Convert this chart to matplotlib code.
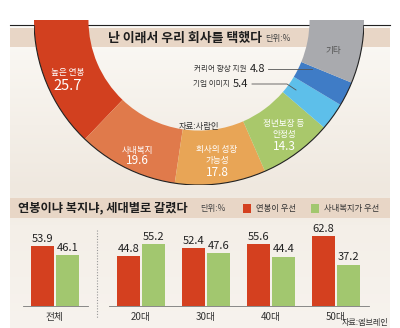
import numpy as np
import matplotlib
matplotlib.use("Agg")
import matplotlib.pyplot as plt
from matplotlib.patches import Rectangle, Arc

plt.rcParams['font.family'] = ['Noto Sans CJK KR', 'DejaVu Sans']

# ---------------- data ----------------
reason_labels = ['높은 연봉', '사내복지', '회사의 성장\n가능성', '정년보장 등\n안정성',
                 '기업 이미지', '커리어 향상 지원', '기타']
reason_values = [25.7, 19.6, 17.8, 14.3, 5.4, 4.8, 12.4]
reason_colors = ['#d2401f', '#e07a4b', '#e8a556', '#a9c86b', '#5dbfea', '#3f7cc6', '#a9aaae']

groups = ['전체', '20대', '30대', '40대', '50대']
salary_first = [53.9, 44.8, 52.4, 55.6, 62.8]
welfare_first = [46.1, 55.2, 47.6, 44.4, 37.2]
series_names = ['연봉이 우선', '사내복지가 우선']
bar_red = '#d4401f'
bar_green = '#a2c76f'

W, H = 400, 328
fig = plt.figure(figsize=(W / 100, H / 100), dpi=100)


def px_axes(x0, y0, x1, y1, **kw):
    return fig.add_axes([x0 / W, 1 - y1 / H, (x1 - x0) / W, (y1 - y0) / H], **kw)


def pixel_layer(z):
    a = fig.add_axes([0, 0, 1, 1], zorder=z)
    a.set_xlim(0, W)
    a.set_ylim(H, 0)
    a.axis('off')
    a.patch.set_alpha(0)
    return a


# background
bg = pixel_layer(0)

ys = np.arange(25, H)
stops_y = [25, 60, 190, 225, 328]
stops_c = np.array([[252, 250, 247], [249, 246, 241], [239, 232, 223], [244, 239, 232], [247, 243, 238]]) / 255
grad = np.stack([np.interp(ys, stops_y, stops_c[:, k]) for k in range(3)], axis=1)
grad = np.repeat(grad[:, None, :], 2, axis=1)
bg.imshow(grad, extent=(10, 390, H, 25), aspect='auto', interpolation='bilinear', zorder=0)

band = '#e8d6c6'
bg.add_patch(Rectangle((10, 28), 380, 19, color=band, zorder=1, lw=0))
bg.add_patch(Rectangle((10, 198), 380, 20, color=band, zorder=1, lw=0))
bg.plot([10, 390], [25, 25], color='#222222', lw=0.8, zorder=2)

# titles
bg.text(108, 38, '난 이래서 우리 회사를 택했다', fontsize=9.3, fontweight='bold',
        color='#1e1e1e', va='center', ha='left', zorder=3)
bg.text(265, 39, '단위:%', fontsize=6, color='#444444', va='center', ha='left', zorder=3)
bg.text(18, 208, '연봉이냐 복지냐, 세대별로 갈렸다', fontsize=8.8, fontweight='bold',
        color='#1e1e1e', va='center', ha='left', zorder=3)
bg.text(200, 209, '단위:%', fontsize=6, color='#444444', va='center', ha='left', zorder=3)

# legend squares
bg.add_patch(Rectangle((243, 204), 8, 9, color=bar_red, zorder=3, lw=0))
bg.text(256, 209, series_names[0], fontsize=6, color='#333333', va='center', ha='left', zorder=3)
bg.add_patch(Rectangle((311, 204), 8, 9, color=bar_green, zorder=3, lw=0))
bg.text(324, 209, series_names[1], fontsize=6, color='#333333', va='center', ha='left', zorder=3)

# ---------------- half donut ----------------
cx, cy, R = 199, 20, 165
top_cut = 25
pax = px_axes(cx - R, top_cut, cx + R, cy + R, zorder=2)
total = sum(reason_values)
vals = reason_values + [total]
cols = reason_colors + ['none']
wedges, _ = pax.pie(vals, colors=cols, startangle=180, counterclock=True, radius=1.0,
                    wedgeprops=dict(width=0.33, linewidth=0))
pax.add_patch(Arc((0, 0), 2.0, 2.0, theta1=180, theta2=360, color='#222222', lw=0.8))
pax.set_xlim(-1, 1)
pax.set_ylim(-1, -(top_cut - cy) / R)
pax.set_aspect('auto')
pax.axis('off')

# overlay for labels
ov = pixel_layer(10)

ov.text(68, 72, reason_labels[0], fontsize=6.2, color='white', ha='center', va='center')
ov.text(68, 86, f'{reason_values[0]}', fontsize=10.5, color='white', ha='center', va='center')
ov.text(137, 150, reason_labels[1], fontsize=6.2, color='white', ha='center', va='center')
ov.text(137, 161, f'{reason_values[1]}', fontsize=8.5, color='white', ha='center', va='center')
ov.text(217, 155, reason_labels[2], fontsize=6.2, color='white', ha='center', va='center',
        linespacing=1.3)
ov.text(217, 172, f'{reason_values[2]}', fontsize=8.5, color='white', ha='center', va='center')
ov.text(284, 129, reason_labels[3], fontsize=6.2, color='white', ha='center', va='center',
        linespacing=1.3)
ov.text(284, 147, f'{reason_values[3]}', fontsize=8.5, color='white', ha='center', va='center')
ov.text(333, 50, reason_labels[6], fontsize=6.2, color='#555555', ha='center', va='center')

# leader labels
ov.text(247, 69, reason_labels[5], fontsize=5.5, color='#333333', ha='right', va='center')
ov.text(250, 69, f'{reason_values[5]}', fontsize=8, color='#222222', ha='left', va='center')
ov.plot([268, 312], [69, 69], color='#555555', lw=0.6)
ov.text(230, 84, reason_labels[4], fontsize=5.5, color='#333333', ha='right', va='center')
ov.text(233, 84, f'{reason_values[4]}', fontsize=8, color='#222222', ha='left', va='center')
ov.plot([252, 287, 296], [84, 84, 90], color='#555555', lw=0.6)

ov.text(199, 126, '자료:사람인', fontsize=6, color='#333333', ha='center', va='center')

# ---------------- bars ----------------
bw = 23 / 65
off = 12.5 / 65
base_y, top_y = 306, 228


def draw_bars(ax, idx):
    x = np.arange(len(idx))
    r = [salary_first[i] for i in idx]
    g = [welfare_first[i] for i in idx]
    b1 = ax.bar(x - off, r, width=bw, color=bar_red, lw=0)
    b2 = ax.bar(x + off, g, width=bw, color=bar_green, lw=0)
    for bars, vals_ in ((b1, r), (b2, g)):
        for rect, v in zip(bars, vals_):
            ax.annotate(f'{v}', (rect.get_x() + rect.get_width() / 2, v), xytext=(0, 1.5),
                        textcoords='offset points', ha='center', va='bottom',
                        fontsize=8, color='#222222')
    ax.set_xlim(-0.5, len(idx) - 0.5)
    ax.set_ylim(0, 70)
    ax.set_xticks(x)
    ax.set_xticklabels([groups[i] for i in idx], fontsize=7, color='#333333')
    ax.tick_params(axis='x', length=0, pad=4)
    ax.set_yticks([])
    for s in ('top', 'left', 'right'):
        ax.spines[s].set_visible(False)
    ax.spines['bottom'].set_color('#777777')
    ax.spines['bottom'].set_linewidth(0.6)
    ax.patch.set_alpha(0)


ax1 = px_axes(55 - 32.5, top_y, 55 + 32.5, base_y, zorder=3)
draw_bars(ax1, [0])
ax2 = px_axes(141 - 32.5, top_y, 336 + 32.5, base_y, zorder=3)
draw_bars(ax2, [1, 2, 3, 4])

ov.plot([97, 97], [230, 318], color='#999999', lw=0.8, ls=(0, (1, 1.5)))
ov.text(388, 327.5, '자료:엠브레인', fontsize=5.8, color='#333333', ha='right', va='bottom')

fig.savefig('out.png', dpi=100)
